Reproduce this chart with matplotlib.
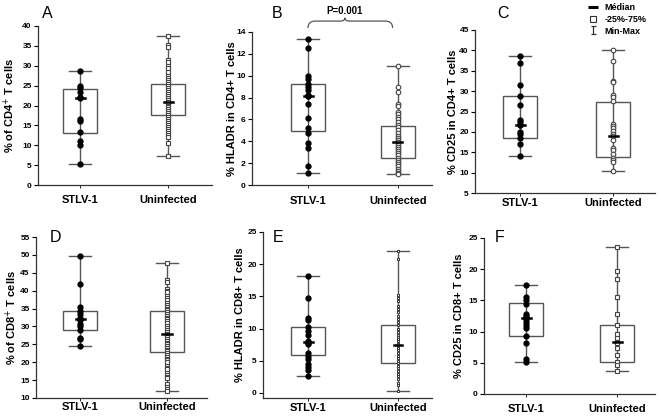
import matplotlib

matplotlib.use("Agg")
import matplotlib.pyplot as plt
from matplotlib.lines import Line2D
from matplotlib.path import Path
from matplotlib.patches import PathPatch, Rectangle

plt.rcParams["font.family"] = ["Liberation Sans", "DejaVu Sans"]

GROUPS = ["STLV-1", "Uninfected"]

# panel A: % of CD4+ T cells
A_stlv = [28.7, 25.0, 24.3, 23.5, 22.2, 22.0, 16.5, 16.0, 13.3, 11.0, 10.0, 5.2]
A_unin = [37.5, 35.2, 34.8, 31.5, 31.0, 30.0, 29.5, 28.5, 27.5, 27.0, 26.5, 26.0,
          25.5, 25.0, 24.5, 24.0, 23.5, 23.0, 22.5, 22.0, 21.5, 21.0, 20.5, 20.0,
          19.5, 19.0, 18.5, 18.0, 17.5, 17.0, 16.5, 16.0, 15.5, 15.0, 14.5, 14.0,
          13.5, 13.0, 12.5, 12.0, 10.5, 7.2]
A_box = [(5.2, 13.2, 22.0, 24.1, 28.7), (7.2, 17.5, 20.8, 25.5, 37.5)]

# panel B: % HLADR in CD4+ T cells
B_stlv = [13.4, 12.5, 10.0, 9.7, 9.2, 9.0, 8.7, 8.2, 8.1, 8.1, 7.4, 6.1, 5.2,
          4.8, 3.8, 3.4, 1.7, 1.1]
B_unin = [10.9, 9.0, 8.5, 7.4, 7.2, 6.7, 6.5, 6.2, 6.0, 5.8, 5.5, 5.3, 5.0, 4.8,
          4.5, 4.3, 4.1, 3.9, 3.7, 3.5, 3.3, 3.1, 2.9, 2.7, 2.5, 2.3, 2.1, 1.9,
          1.7, 1.5, 1.3, 1.1, 1.0]
B_box = [(1.1, 4.9, 8.1, 9.2, 13.4), (1.0, 2.5, 3.9, 5.4, 10.9)]

# panel C: % CD25 in CD4+ T cells
C_stlv = [38.5, 37.0, 31.4, 28.9, 26.5, 23.0, 22.5, 21.8, 21.6, 20.0, 19.6,
          18.5, 17.0, 14.2]
C_unin = [40.0, 37.5, 32.5, 32.2, 29.0, 28.5, 27.5, 22.0, 21.5, 21.0, 20.3,
          19.5, 19.0, 18.0, 16.0, 15.5, 14.5, 13.5, 13.0, 12.5, 10.3]
C_box = [(14.2, 18.6, 21.7, 28.7, 38.5), (10.3, 13.8, 19.0, 27.3, 40.0)]

# panel D: % of CD8+ T cells
D_stlv = [49.7, 42.0, 35.4, 34.2, 33.5, 32.5, 32.0, 31.8, 30.6, 30.0, 29.0,
          26.8, 26.4, 24.5]
D_unin = [47.8, 43.0, 42.3, 40.5, 40.0, 39.5, 38.5, 38.0, 37.5, 36.5, 36.0,
          35.5, 35.0, 34.5, 34.0, 33.5, 33.0, 32.5, 32.0, 31.5, 31.0, 30.0, 29.5,
          29.0, 28.5, 28.0, 27.5, 27.0, 26.5, 26.0, 25.5, 25.0, 24.5, 24.0, 23.5,
          23.0, 22.5, 22.0, 21.5, 21.0, 20.5, 20.0, 19.0, 18.5, 18.0, 17.0, 16.5,
          16.0, 15.5, 14.0, 13.0, 12.5, 11.9]
D_box = [(24.5, 29.1, 32.0, 34.2, 49.7), (11.9, 22.8, 28.0, 34.2, 47.8)]

# panel E: % HLADR in CD8+ T cells
E_stlv = [18.2, 14.8, 11.6, 11.3, 10.2, 9.6, 9.0, 8.1, 7.8, 7.6, 6.2, 5.8, 5.2,
          4.5, 4.0, 3.5, 2.6]
E_unin = [22.0, 20.8, 15.2, 14.8, 14.2, 13.5, 13.0, 12.5, 12.0, 11.5, 11.0,
          10.5, 10.0, 9.5, 9.0, 8.7, 8.3, 8.0, 7.6, 7.3, 7.0, 6.6, 6.2, 5.8, 5.4,
          5.0, 4.6, 4.2, 3.8, 3.4, 3.0, 2.6, 2.2, 1.5, 1.2, 0.3]
E_box = [(2.6, 5.9, 7.9, 10.3, 18.2), (0.3, 4.6, 7.5, 10.6, 22.0)]

# panel F: % CD25 in CD8+ T cells
F_stlv = [17.4, 15.5, 15.0, 14.5, 12.8, 12.5, 12.2, 12.0, 11.5, 11.0, 10.6, 9.3,
          8.1, 5.6, 5.2]
F_unin = [23.6, 19.7, 18.4, 15.5, 12.9, 11.1, 9.6, 9.0, 8.3, 8.1, 7.4, 6.3, 5.2,
          4.6, 3.7]
F_box = [(5.1, 9.3, 12.1, 14.6, 17.4), (3.7, 5.2, 8.3, 11.1, 23.6)]

W, H = 661, 416

PANELS = [
    # letter, ylabel, stlv, unin, box, ylim, yticks, marker,
    # px box (left, right, bottom, top), group centres px, ylabel x px, xlabel pad, letter pos px
    ("A", "% of CD4$^{+}$ T cells", A_stlv, A_unin, A_box, (0, 40), range(0, 41, 5), "s",
     (38, 212, 185, 26), (80, 168), 9, 5.5, (42, 14)),
    ("B", "% HLADR in CD4+ T cells", B_stlv, B_unin, B_box, (0, 14), range(0, 15, 2), "o",
     (252, 432, 185, 32), (308, 398), 232, 6, (272, 14)),
    ("C", "% CD25 in CD4+ T cells", C_stlv, C_unin, C_box, (5, 45), range(5, 46, 5), "o",
     (475, 655, 193, 30), (520, 613), 453, 1.5, (497, 14)),
    ("D", "% of CD8$^{+}$ T cells", D_stlv, D_unin, D_box, (10, 55), range(10, 56, 5), "s",
     (36, 207, 398, 237), (80, 167), 11, 1, (50, 237)),
    ("E", "% HLADR in CD8+ T cells", E_stlv, E_unin, E_box, (-0.8, 25), range(0, 26, 5), ".",
     (263, 432, 398, 232), (308, 398), 240, 1.5, (273, 237)),
    ("F", "% CD25 in CD8+ T cells", F_stlv, F_unin, F_box, (0, 25), range(0, 26, 5), "s",
     (484, 655, 394, 238), (526, 617), 459, 5, (495, 237)),
]

GRAY = "#555555"

# I-beam marker for the Min-Max legend entry
IBEAM = Path([(-0.6, 1), (0.6, 1), (0, 1), (0, -1), (-0.6, -1), (0.6, -1)],
             [Path.MOVETO, Path.LINETO, Path.MOVETO, Path.LINETO, Path.MOVETO, Path.LINETO])


def draw_group(ax, x, vals, box, filled, marker, scale):
    lo, q1, med, q3, hi = box
    bw = 34 / scale
    cw = 22 / scale
    ax.plot([x, x], [lo, hi], color=GRAY, lw=1.0, zorder=1)
    ax.plot([x - cw / 2, x + cw / 2], [lo, lo], color=GRAY, lw=1.0, zorder=1)
    ax.plot([x - cw / 2, x + cw / 2], [hi, hi], color=GRAY, lw=1.0, zorder=1)
    ax.add_patch(Rectangle((x - bw / 2, q1), bw, q3 - q1, fill=False,
                           edgecolor=GRAY, lw=1.0, zorder=2))
    if filled:
        ax.plot([x] * len(vals), vals, "o", ms=3.5, color="black", zorder=3)
    elif marker == ".":
        ax.plot([x] * len(vals), vals, "s", ms=1.6, mfc="white", mec="#333333",
                mew=0.7, zorder=3)
    else:
        ax.plot([x] * len(vals), vals, marker, ms=3.3, mfc="white", mec="#444444",
                mew=0.8, zorder=3)
    ax.plot([x - 4.5 / scale, x + 4.5 / scale], [med, med], color="black", lw=1.8, zorder=4)


fig = plt.figure(figsize=(W / 100, H / 100), dpi=100)

for (letter, ylabel, stlv, unin, box, ylim, yticks, marker, pbox, centres,
     ylab_x, xpad, letter_pos) in PANELS:
    left, right, bottom, top = pbox
    ax = fig.add_axes([left / W, 1 - bottom / H, (right - left) / W, (bottom - top) / H])
    scale = centres[1] - centres[0]
    ax.set_xlim(1 - (centres[0] - left) / scale, 1 + (right - centres[0]) / scale)
    ax.set_ylim(*ylim)
    draw_group(ax, 1, stlv, box[0], True, marker, scale)
    draw_group(ax, 2, unin, box[1], False, marker, scale)
    ax.set_xticks([1, 2])
    ax.set_xticklabels(GROUPS, fontsize=8, fontweight="bold")
    ax.set_yticks(list(yticks))
    ax.tick_params(axis="y", labelsize=6, length=3, width=0.8, pad=1.5)
    ax.tick_params(axis="x", length=2, width=0.6, pad=xpad)
    for lab in ax.get_yticklabels():
        lab.set_fontweight("bold")
    for s in ("top", "right"):
        ax.spines[s].set_visible(False)
    for s in ("left", "bottom"):
        ax.spines[s].set_color("#333333")
        ax.spines[s].set_linewidth(0.9)
    fig.text(ylab_x / W, 1 - (top + bottom) / 2 / H, ylabel, rotation=90,
             ha="center", va="center", fontsize=8, fontweight="bold")
    fig.text(letter_pos[0] / W, 1 - letter_pos[1] / H, letter, fontsize=11.5,
             ha="left", va="center")

    if letter == "B":
        # brace with p-value between the two groups
        x0, x1, xm = 1.0, 1.94, 1.41
        yb, yt, yp = 14.37, 15.0, 15.3
        verts = [(x0, yb), (x0, yt), (x0 + 0.08, yt), (xm - 0.05, yt), (xm, yt), (xm, yp),
                 (xm, yt), (xm + 0.05, yt), (x1 - 0.08, yt), (x1, yt), (x1, yb)]
        codes = [Path.MOVETO, Path.CURVE3, Path.CURVE3, Path.LINETO, Path.CURVE3, Path.CURVE3,
                 Path.CURVE3, Path.CURVE3, Path.LINETO, Path.CURVE3, Path.CURVE3]
        ax.add_patch(PathPatch(Path(verts, codes), fill=False, edgecolor=GRAY, lw=0.9,
                               clip_on=False))
        ax.text(xm, 15.45, "P=0.001", fontsize=7, fontweight="bold", ha="center",
                va="bottom", clip_on=False)

handles = [
    Line2D([], [], marker="_", ms=7, mew=2.2, color="black", ls="none"),
    Line2D([], [], marker="s", ms=5, mfc="white", mec="#333333", mew=0.8, ls="none"),
    Line2D([], [], marker=IBEAM, ms=6, color="#333333", mew=0.9, ls="none"),
]
fig.legend(handles, ["Médian", "-25%-75%", "Min-Max"], loc="upper left",
           bbox_to_anchor=(580 / W, 1.012), frameon=False,
           handlelength=1.0, handletextpad=0.8, labelspacing=0.3,
           prop={"weight": "bold", "size": 6.5})

fig.savefig("out.png", dpi=100)
